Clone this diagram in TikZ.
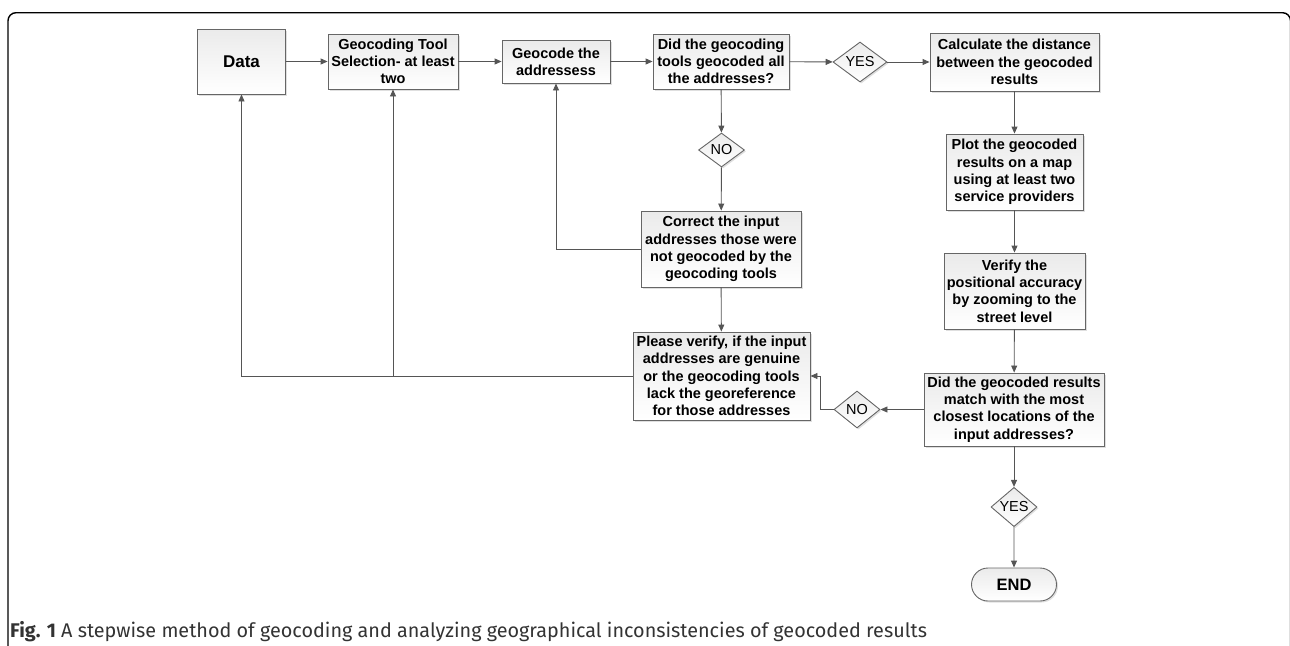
\documentclass[tikz,border=0pt]{standalone}
\usepackage{fontspec}
\setmainfont{Liberation Sans}
\newfontfamily\capfont{Fira Sans}
\usetikzlibrary{arrows.meta,shapes.geometric,shapes.misc,shadows}
\definecolor{linegray}{HTML}{555555}
\definecolor{edgegray}{HTML}{666666}
\begin{document}
\begin{tikzpicture}[x=1pt,y=-1pt,
		box/.style={draw=edgegray, line width=0.9pt, top color=black!8, bottom color=white,
			drop shadow={opacity=0.25, shadow xshift=1.5pt, shadow yshift=-1.5pt},
			align=center, inner sep=1pt, font=\fontsize{14.5}{17.3}\selectfont\bfseries},
		decision/.style={box, diamond, inner sep=0pt, font=\fontsize{14.5}{17}\selectfont},
		terminal/.style={box, rounded rectangle, font=\fontsize{16.5}{18}\selectfont\bfseries},
		line/.style={draw=linegray, line width=0.9pt, -{Triangle[length=7pt,width=6pt]}}]
	\useasboundingbox (0,0) rectangle (1290,645);
	\clip (0,0) rectangle (1290,645);
	% frame
	\draw[line width=1.4pt, rounded corners=8pt] (8,700) -- (8,12.7) -- (1290.5,12.7) -- (1290.5,700);
	% top row
	\node[box, minimum width=88, minimum height=65, font=\fontsize{17}{20}\selectfont\bfseries] (data) at (241.5,61.5) {Data};
	\node[box, minimum width=130, minimum height=55] (tool) at (393,61.5) {Geocoding Tool\\Selection- at least\\two};
	\node[box, minimum width=108, minimum height=43] (geocode) at (556,61.5) {Geocode the\\addressess};
	\node[box, minimum width=136, minimum height=55] (check) at (721,61.5) {Did the geocoding\\tools geocoded all\\the addresses?};
	\node[decision, minimum width=54, minimum height=40] (yesA) at (860,62) {YES};
	\node[box, minimum width=169, minimum height=58] (dist) at (1014.5,62) {Calculate the distance\\between the geocoded\\results};
	% right column
	\node[box, minimum width=137, minimum height=76] (plot) at (1014.5,172) {Plot the geocoded\\results on a map\\using at least two\\service providers};
	\node[box, minimum width=141, minimum height=76] (verify) at (1014.5,291) {Verify the\\positional accuracy\\by zooming to the\\street level};
	\node[box, minimum width=180, minimum height=73] (match) at (1014,409.5) {Did the geocoded results\\match with the most\\closest locations of the\\input addresses?};
	\node[decision, minimum width=46, minimum height=34] (yesB) at (1014,507) {YES};
	\node[terminal, minimum width=87, minimum height=33] (end) at (1014,584.5) {END};
	% middle column
	\node[decision, minimum width=46, minimum height=34] (noA) at (721.5,150) {NO};
	\node[box, minimum width=160, minimum height=76] (correct) at (721,249) {Correct the input\\addresses those were\\not geocoded by the\\geocoding tools};
	\node[box, minimum width=177, minimum height=88] (please) at (721.5,376) {Please verify, if the input\\addresses are genuine\\or the geocoding tools\\lack the georeference\\for those addresses};
	\node[decision, minimum width=46, minimum height=37] (noB) at (857,409.5) {NO};
	% connectors
	\draw[line] (data) -- (tool);
	\draw[line] (tool) -- (geocode);
	\draw[line] (geocode) -- (check);
	\draw[line] (check) -- (yesA);
	\draw[line] (yesA) -- (dist);
	\draw[line] (dist) -- (plot);
	\draw[line] (plot) -- (verify);
	\draw[line] (verify) -- (match);
	\draw[line] (match) -- (yesB);
	\draw[line] (yesB) -- (end);
	\draw[line] (check) -- (noA);
	\draw[line] (noA) -- (correct);
	\draw[line] (correct.west) -| (geocode.south);
	\draw[line] (correct) -- (please);
	\draw[line] (please.west) -| (data.south);
	\coordinate (jn) at (tool.south |- please.west);
	\draw[line] (jn) -- (tool.south);
	\draw[line] (match) -- (noB);
	\draw[line] (noB.west) -- ++(-13,0) |- (please.east);
	% caption
	\node[anchor=base west, inner sep=0pt, text=black!80, font=\capfont\fontsize{19.8}{23}\selectfont] (caption) at (10,637)
		{\textbf{Fig. 1} A stepwise method of geocoding and analyzing geographical inconsistencies of geocoded results};
\end{tikzpicture}
\end{document}
